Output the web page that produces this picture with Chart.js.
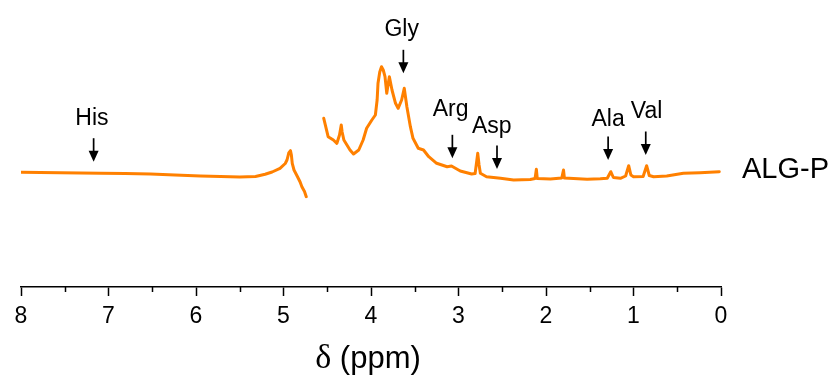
<!DOCTYPE html>
<html>
<head>
<meta charset="utf-8">
<script src="https://cdn.jsdelivr.net/npm/chart.js@4.4.1/dist/chart.umd.min.js"></script>
<style>
  body { margin: 0; background: #fff; }
  #wrap { width: 837px; height: 383px; position: relative; }
</style>
</head>
<body>
<div id="wrap"><canvas id="nmrChart"></canvas></div>
<script>
// spectrum ALG-P (ppm / relative intensity)
var seg1Ppm = [8.00, 7.78, 7.55, 7.32, 7.09, 6.81, 6.52, 6.24, 5.95, 5.72, 5.50, 5.32, 5.21, 5.13, 5.04, 4.98, 4.96, 4.94, 4.92, 4.91, 4.90, 4.88, 4.84, 4.81, 4.79, 4.76, 4.74];
var seg1Int = [5.7, 5.5, 5.2, 5.0, 4.7, 4.4, 4.0, 3.0, 2.0, 1.5, 1.0, 1.5, 3.7, 6.0, 9.7, 14.5, 18, 25, 27.3, 23, 14.7, 8, 1.3, -4, -8.7, -13.5, -18.7];

var seg2Ppm = [4.54, 4.49, 4.43, 4.39, 4.36, 4.34, 4.33, 4.31, 4.24, 4.20, 4.14, 4.09, 4.05, 3.99, 3.95, 3.93, 3.92, 3.90, 3.88, 3.86, 3.84, 3.82, 3.80, 3.79, 3.76, 3.72, 3.69, 3.65, 3.62, 3.59, 3.55, 3.52, 3.46, 3.40, 3.34, 3.25, 3.13, 3.08, 2.98, 2.85, 2.81, 2.79, 2.78, 2.765, 2.75, 2.68, 2.52, 2.37, 2.18, 2.125, 2.11, 2.10, 1.95, 1.82, 1.80, 1.79, 1.53, 1.38, 1.30, 1.26, 1.23, 1.15, 1.09, 1.055, 1.03, 1.00, 0.89, 0.85, 0.82, 0.77, 0.62, 0.43, 0.24, 0.02];
var seg2Int = [59.7, 41.3, 38, 34.7, 43, 53, 46, 38, 28, 24, 28, 38, 49.7, 58, 63, 78, 94.7, 106, 111.3, 108, 101.3, 84.7, 96, 101.3, 88, 74.7, 69.7, 78, 89.7, 71.3, 51.3, 39.7, 29.7, 28, 21.3, 14.7, 11.3, 12, 7, 4, 4.5, 18, 24.7, 13, 4.7, 1.3, -0.3, -2, -1.5, -0.5, 8.7, -0.5, -1, 0, 8, 0, -1.3, -0.8, -0.3, 6.3, 0.5, -0.3, 2, 12.3, 3, 1.3, 1.5, 12.3, 2.5, 1.3, 2, 4.7, 5.3, 6.3];

var xTicks = [0, 1, 2, 3, 4, 5, 6, 7, 8];

// assigned peaks
var peakNames = ["His", "Gly", "Arg", "Asp", "Ala", "Val"];
var peakPpm = [7.17, 3.63, 3.07, 2.56, 1.29, 0.86];
var peakTip = [16.3, 104.7, 19.7, 9, 18, 23];
var labelPpm = [7.19, 3.65, 3.09, 2.62, 1.29, 0.85];
var labelInt = [59, 148.7, 68, 51.3, 58.7, 66.3];

var points = [];
for (var i = 0; i < seg1Ppm.length; i++) points.push({ x: seg1Ppm[i], y: seg1Int[i] });
points.push({ x: 4.64, y: null }); // no data around the water signal
for (var j = 0; j < seg2Ppm.length; j++) points.push({ x: seg2Ppm[j], y: seg2Int[j] });

var sansFont = "'Liberation Sans', Arial, sans-serif";

var extras = {
  id: "extras",
  afterDraw: function (chart) {
    var c = chart.ctx;
    var xs = chart.scales.x;
    var ys = chart.scales.y;
    var area = chart.chartArea;
    c.save();

    // minor ticks
    c.strokeStyle = "#000";
    c.lineWidth = 1.5;
    for (var m = 0.5; m < 8; m += 1) {
      var px = Math.round(xs.getPixelForValue(m)) + 0.5;
      c.beginPath();
      c.moveTo(px, area.bottom);
      c.lineTo(px, area.bottom + 5);
      c.stroke();
    }

    // arrows + labels
    c.fillStyle = "#000";
    c.font = "23px " + sansFont;
    c.textAlign = "center";
    c.textBaseline = "middle";
    for (var k = 0; k < peakNames.length; k++) {
      var ax = xs.getPixelForValue(peakPpm[k]);
      var tip = ys.getPixelForValue(peakTip[k]);
      c.beginPath();
      c.moveTo(ax, tip - 23.5);
      c.lineTo(ax, tip - 8);
      c.lineWidth = 1.7;
      c.stroke();
      c.beginPath();
      c.moveTo(ax - 5, tip - 11);
      c.lineTo(ax + 5, tip - 11);
      c.lineTo(ax, tip);
      c.closePath();
      c.fill();
      c.fillText(peakNames[k], xs.getPixelForValue(labelPpm[k]), ys.getPixelForValue(labelInt[k]));
    }

    // series name at the right end
    var last = seg2Int[seg2Int.length - 1];
    c.font = "29px " + sansFont;
    c.textAlign = "left";
    c.fillText(chart.data.datasets[0].label, area.right + 21, ys.getPixelForValue(last) - 1.5);

    // axis title: serif delta + sans unit
    var t1 = "\u03b4";
    var t2 = " (ppm)";
    var f1 = "34px 'Liberation Serif', 'Times New Roman', serif";
    var f2 = "31px " + sansFont;
    c.font = f1;
    var w1 = c.measureText(t1).width;
    c.font = f2;
    var w2 = c.measureText(t2).width;
    var start = (area.left + area.right) / 2 - 3 - (w1 + w2) / 2;
    c.textBaseline = "alphabetic";
    c.font = f1;
    c.fillText(t1, start, 368);
    c.font = f2;
    c.fillText(t2, start + w1, 368);
    c.restore();
  }
};

var ctx = document.getElementById("nmrChart").getContext("2d");

var chart = new Chart(ctx, {
  type: "line",
  data: {
    datasets: [
      {
        label: "ALG-P",
        data: points,
        borderColor: "#ff8000",
        borderWidth: 3,
        pointRadius: 0,
        tension: 0,
        spanGaps: false,
        borderJoinStyle: "round",
        borderCapStyle: "round",
      },
    ],
  },
  options: {
    responsive: true,
    maintainAspectRatio: false,
    animation: false,
    layout: { padding: { left: 21, right: 116, top: 0, bottom: 0 } },
    scales: {
      x: {
        type: "linear",
        reverse: true,
        min: 0,
        max: 8,
        afterBuildTicks: function (scale) {
          var list = [];
          for (var t = 0; t <= 16; t++) list.push({ value: t / 2 });
          scale.ticks = list;
        },
        afterFit: function (scale) {
          scale.height = 96;
        },
        ticks: {
          autoSkip: false,
          maxRotation: 0,
          padding: 7,
          color: "#000",
          font: { family: sansFont, size: 23 },
          callback: function (v) {
            return xTicks.indexOf(v) >= 0 ? String(v) : "";
          },
        },
        grid: {
          drawOnChartArea: false,
          drawTicks: true,
          tickLength: 9,
          tickWidth: 1.5,
          tickColor: function (c) {
            return c.tick && xTicks.indexOf(c.tick.value) >= 0 ? "#000" : "rgba(0,0,0,0)";
          },
        },
        border: { display: true, color: "#000", width: 1.5 },
      },
      y: {
        display: false,
        min: -109,
        max: 178,
      },
    },
    plugins: {
      legend: { display: false },
      tooltip: { enabled: false },
    },
  },
  plugins: [extras],
});
</script>
</body>
</html>
